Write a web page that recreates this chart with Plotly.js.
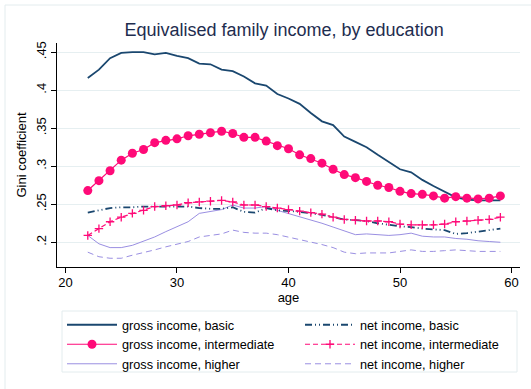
<!DOCTYPE html>
<html>
<head>
<meta charset="utf-8">
<script src="https://cdn.plot.ly/plotly-3.0.1.min.js"></script>
<style>html,body{margin:0;padding:0;background:#fff;}#chart{width:531px;height:389px;}</style>
</head>
<body>
<div id="chart"></div>
<script>
var age = [22,23,24,25,26,27,28,29,30,31,32,33,34,35,36,37,38,39,40,41,42,43,44,45,46,47,48,49,50,51,52,53,54,55,56,57,58,59];

var grossBasic = [0.416,0.427,0.442,0.449,0.450,0.450,0.447,0.449,0.445,0.442,0.435,0.434,0.427,0.425,0.418,0.409,0.406,0.395,0.389,0.382,0.370,0.359,0.354,0.339,0.332,0.325,0.315,0.306,0.296,0.292,0.282,0.274,0.266,0.259,0.256,0.255,0.255,0.255];
var grossInter = [0.268,0.281,0.294,0.308,0.317,0.322,0.331,0.334,0.336,0.340,0.342,0.344,0.346,0.343,0.338,0.338,0.333,0.327,0.323,0.315,0.310,0.304,0.296,0.289,0.285,0.280,0.275,0.272,0.267,0.264,0.263,0.261,0.258,0.260,0.258,0.257,0.258,0.261];
var grossHigher = [0.209,0.198,0.193,0.193,0.196,0.201,0.207,0.214,0.220,0.227,0.238,0.241,0.243,0.249,0.245,0.245,0.247,0.242,0.238,0.233,0.229,0.225,0.220,0.215,0.210,0.211,0.210,0.209,0.210,0.212,0.208,0.207,0.207,0.205,0.204,0.202,0.201,0.200];
var netBasic = [0.239,0.242,0.245,0.246,0.246,0.247,0.247,0.247,0.247,0.247,0.245,0.244,0.244,0.246,0.240,0.239,0.245,0.242,0.241,0.240,0.238,0.236,0.233,0.230,0.229,0.228,0.225,0.223,0.221,0.220,0.218,0.217,0.216,0.211,0.212,0.214,0.216,0.218];
var netInter = [0.209,0.218,0.227,0.233,0.238,0.242,0.247,0.248,0.249,0.252,0.253,0.254,0.255,0.253,0.249,0.249,0.247,0.245,0.243,0.241,0.239,0.237,0.233,0.230,0.229,0.228,0.228,0.227,0.224,0.223,0.223,0.223,0.224,0.227,0.228,0.229,0.230,0.233];
var netHigher = [0.187,0.181,0.179,0.179,0.183,0.186,0.190,0.194,0.197,0.201,0.207,0.209,0.211,0.216,0.213,0.212,0.212,0.210,0.207,0.204,0.200,0.197,0.193,0.187,0.185,0.186,0.186,0.186,0.188,0.190,0.188,0.188,0.189,0.190,0.189,0.188,0.188,0.188];

var yTickVals = [0.2,0.25,0.3,0.35,0.4,0.45];
var yTickText = ['.2','.25','.3','.35','.4','.45'];
var xTickVals = [20,30,40,50,60];

var navy = '#1a476f';
var pink = '#ff0a78';
var lav = '#9a8fe2';

var traces = [
  {x: age, y: grossBasic, name: 'gross income, basic', legend: 'legend', mode: 'lines', line: {color: navy, width: 1.8}},
  {x: age, y: grossInter, name: 'gross income, intermediate', legend: 'legend', mode: 'lines+markers', line: {color: pink, width: 1.2}, marker: {symbol: 'circle', size: 9, color: pink}},
  {x: age, y: grossHigher, name: 'gross income, higher', legend: 'legend', mode: 'lines', line: {color: lav, width: 1}},
  {x: age, y: netBasic, name: 'net income, basic', legend: 'legend2', mode: 'lines', line: {color: navy, width: 1.8, dash: '7px,3px,1px,3px,1px,3px'}},
  {x: age, y: netInter, name: 'net income, intermediate', legend: 'legend2', mode: 'lines+markers', line: {color: pink, width: 1.2, dash: '5px,3px'}, marker: {symbol: 'cross-thin', size: 6, color: pink, line: {color: pink, width: 1.3}}},
  {x: age, y: netHigher, name: 'net income, higher', legend: 'legend2', mode: 'lines', line: {color: lav, width: 1, dash: '6px,4px'}}
];

var legTop = -43 / 224;
var legendBase = {
  xanchor: 'left', yanchor: 'top',
  bgcolor: 'rgba(0,0,0,0)', borderwidth: 0, font: {size: 12.7}, itemwidth: 50,
  orientation: 'v', traceorder: 'normal', tracegroupgap: 0
};
var legend1 = Object.assign({}, legendBase, {x: 5/463, y: legTop});
var legend2 = Object.assign({}, legendBase, {x: 243/463, y: legTop});

var layout = {
  width: 531, height: 389,
  margin: {l: 57, r: 11, t: 43, b: 122, autoexpand: false},
  paper_bgcolor: '#ffffff',
  plot_bgcolor: '#ffffff',
  font: {family: 'Liberation Sans, Arial, sans-serif', size: 13, color: '#000'},
  title: {text: 'Equivalised family income, by education', font: {size: 18, color: '#1e2d4f'}, x: 0.535, xanchor: 'center', y: 0.923, yanchor: 'middle', xref: 'container', yref: 'container'},
  xaxis: {
    range: [19.24, 60.76], tickvals: xTickVals, ticks: 'outside', ticklen: 5, tickcolor: '#000',
    showline: true, linecolor: '#000', linewidth: 1, showgrid: false, zeroline: false, ticklabelstandoff: -2,
    tickfont: {size: 13}, title: {text: 'age', font: {size: 13}, standoff: 1}
  },
  yaxis: {
    range: [0.1675, 0.462], tickvals: yTickVals, ticktext: yTickText, tickangle: -90,
    ticks: 'outside', ticklen: 5, tickcolor: '#000',
    showline: true, linecolor: '#000', linewidth: 1, showgrid: true, gridcolor: '#e6eff1', gridwidth: 1, zeroline: false,
    tickfont: {size: 13}, title: {text: 'Gini coefficient', font: {size: 13}, standoff: 4}
  },
  showlegend: true,
  legend: legend1,
  legend2: legend2,
  shapes: [
    {type: 'line', xref: 'paper', yref: 'paper', x0: -0.1123, x1: 1.2, y0: 1.1696, y1: 1.1696, line: {color: '#e3ecee', width: 1}},
    {type: 'line', xref: 'paper', yref: 'paper', x0: -0.1123, x1: -0.1123, y0: 1.1696, y1: -0.6, line: {color: '#e3ecee', width: 1}},
    {type: 'rect', xref: 'paper', yref: 'paper', x0: 5/463, x1: 460/463, y0: -44/224, y1: -105/224, line: {color: '#e3ecee', width: 1}, fillcolor: 'rgba(0,0,0,0)', layer: 'below'}
  ]
};

Plotly.newPlot('chart', traces, layout, {displayModeBar: false, staticPlot: true});
</script>
</body>
</html>
